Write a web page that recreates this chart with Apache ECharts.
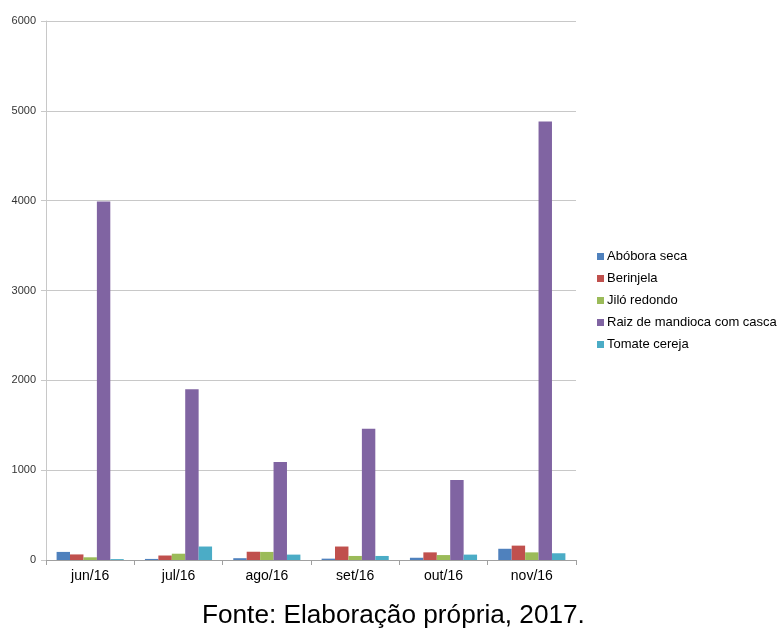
<!DOCTYPE html>
<html><head><meta charset="utf-8">
<script src="https://cdn.jsdelivr.net/npm/echarts@6/dist/echarts.min.js"></script>
<style>html,body{margin:0;padding:0;background:#fff}#c{width:781px;height:630px}</style>
</head><body><div id="c"></div>
<script>
const categories = ['jun/16','jul/16','ago/16','set/16','out/16','nov/16'];
const seriesNames = ['Abóbora seca','Berinjela','Jiló redondo','Raiz de mandioca com casca','Tomate cereja'];
const abobora = [90, 12, 20, 15, 25, 125];
const berinjela = [62, 50, 92, 150, 85, 160];
const jilo = [30, 70, 90, 45, 55, 85];
const mandioca = [3990, 1900, 1090, 1460, 890, 4880];
const tomate = [10, 150, 60, 45, 60, 75];
const colors = ['#4F81BD','#C0504D','#9BBB59','#8064A2','#4BACC6'];
const values = [abobora, berinjela, jilo, mandioca, tomate];

const chart = echarts.init(document.getElementById('c'));
chart.setOption({
  animation:false,
  backgroundColor:'#fff',
  textStyle:{fontFamily:'Liberation Sans, Arial, sans-serif'},
  grid:{left:46,right:205,top:21,bottom:70},
  legend:{orient:'vertical',left:592,top:245,itemWidth:7,itemHeight:7,itemGap:9,icon:'rect',
    data:seriesNames,textStyle:{fontSize:13,color:'#000',padding:[0,0,0,-2]}},
  xAxis:{type:'category',data:categories,
    axisLine:{lineStyle:{color:'#a0a0a0'}},
    axisTick:{show:true,length:5,lineStyle:{color:'#a0a0a0'}},
    axisLabel:{color:'#000',fontSize:14,margin:9}},
  yAxis:{type:'value',min:0,max:6000,interval:1000,
    axisLine:{show:true,lineStyle:{color:'#c8c8c8'}},
    axisTick:{show:true,length:5,lineStyle:{color:'#c8c8c8'}},
    splitLine:{lineStyle:{color:'#c8c8c8'}},
    axisLabel:{color:'#333',fontSize:11,margin:10,formatter:v=>String(v)}},
  series: seriesNames.map((n,i)=>({name:n,type:'bar',data:values[i],
    itemStyle:{color:colors[i]},barGap:'0%',barCategoryGap:'24%'})),
  graphic:[{type:'text',left:202,top:603,
    style:{text:'Fonte: Elaboração própria, 2017.',fontSize:26.2,fill:'#000',fontFamily:'Liberation Sans, Arial, sans-serif'}}]
});
</script></body></html>
